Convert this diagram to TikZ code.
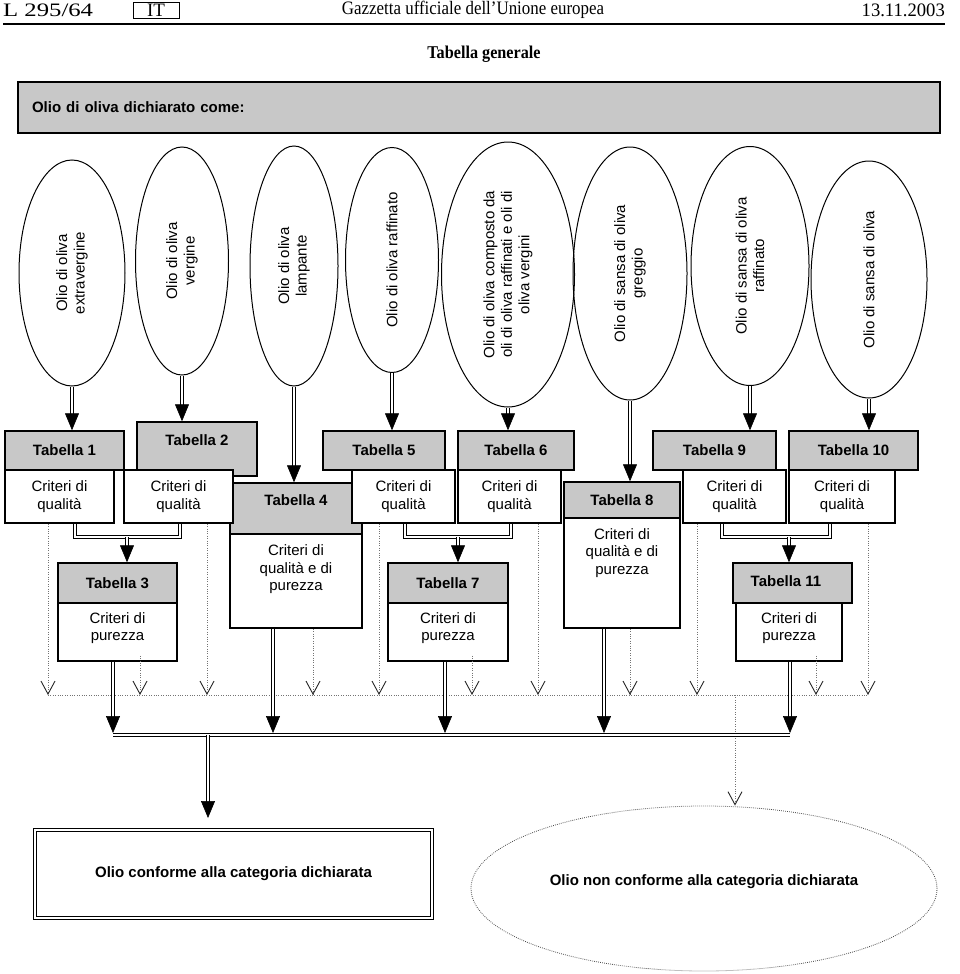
\documentclass[tikz,border=0pt]{standalone}
\usepackage{fontspec}
\setmainfont{Liberation Serif}
\setsansfont{Liberation Sans}
\usetikzlibrary{shapes.geometric,arrows.meta,calc}
\definecolor{boxgray}{RGB}{200,200,200}
\newcommand{\fsz}{\fontsize{15}{17.5}\selectfont\sffamily}
\newcommand{\dblarrow}[2]{\draw[dbl, shorten >=13pt] (#1) -- (#2); \draw[tiponly] (#1) -- (#2);}
\begin{document}
\begin{tikzpicture}[x=1pt,y=-1pt,
  hdr/.style={font=\fontsize{19}{21}\selectfont, inner sep=0},
  gbox/.style={draw, fill=boxgray, line width=1.5pt, inner sep=0, font=\fsz\bfseries},
  wbox/.style={draw, fill=white, line width=1.5pt, inner sep=0, align=center, font=\fsz},
  oval/.style={ellipse, draw, line width=1pt, rotate=90, align=center, inner sep=0, font=\fsz},
  txt/.style={inner sep=0, align=center, font=\fsz},
  btxt/.style={inner sep=0, font=\fsz\bfseries},
  dbl/.style={double, double distance=2.2pt, line width=1.2pt},
  tiponly/.style={draw=white, line width=0.6pt, -{Triangle[length=17pt,width=14pt,color=black]}},
  dots/.style={line width=0.8pt, draw=black!55, dash pattern=on 0.8pt off 1.6pt},
  vd/.style={dots, -{Straight Barb[length=13pt,width=14pt,color=black!85,line width=0.9pt]}}
]
\useasboundingbox (0,0) rectangle (960,974);
% header
\node[hdr, anchor=west] (pg) at (3,10) {\scalebox{1.3}[1]{L 295/64}};
\node[hdr, draw, line width=0.8pt, minimum width=46, minimum height=16] (it) at (156,10) {IT};
\node[hdr] (gz) at (473,10) {\scalebox{0.89}[1]{Gazzetta ufficiale dell'Unione europea}};
\node[hdr, anchor=east] (dt) at (945,10) {\scalebox{0.98}[1]{13.11.2003}};
\coordinate (rl) at (3,24); \coordinate (rr) at (945,24);
\draw[line width=1.3pt] (rl) -- (rr);
\node[font=\fontsize{18}{20}\selectfont\bfseries, inner sep=0] (tg) at (484,54) {\scalebox{0.9}[1]{Tabella generale}};
\node[gbox, minimum width=922, minimum height=51, text width=894, align=left] (hb) at (479,107.5) {Olio di oliva dichiarato come:};
% ellipses
\node[oval, minimum width=226, minimum height=106] (e1) at (72,273) {Olio di oliva\\extravergine};
\node[oval, minimum width=228, minimum height=93] (e2) at (182,261) {Olio di oliva\\vergine};
\node[oval, minimum width=240, minimum height=88] (e3) at (294,266) {Olio di oliva\\lampante};
\node[oval, minimum width=225, minimum height=93] (e4) at (392,260) {Olio di oliva raffinato};
\node[oval, minimum width=265, minimum height=133] (e5) at (508,274.5) {Olio di oliva composto da\\oli di oliva raffinati e oli di\\oliva vergini};
\node[oval, minimum width=253, minimum height=114] (e6) at (630,273.5) {Olio di sansa di oliva\\greggio};
\node[oval, minimum width=239, minimum height=118] (e7) at (750,266) {Olio di sansa di oliva\\raffinato};
\node[oval, minimum width=237, minimum height=116] (e8) at (869,279.5) {Olio di sansa di oliva};
% gray table heads
\node[gbox, minimum width=119, minimum height=39] (t1) at (64.5,450.5) {Tabella 1};
\node[gbox, minimum width=120, minimum height=54] (t2) at (197,449) {};
\node[btxt] (t2l) at (197,440) {Tabella 2};
\node[gbox, minimum width=132, minimum height=51] (t4) at (296,508.5) {};
\node[btxt] (t4l) at (296,500) {Tabella 4};
\node[wbox, minimum width=132, minimum height=94] (t4w) at (296,581) {};
\node[txt] (t4t) at (296,569.5) {Criteri di\\qualità e di\\purezza};
\node[gbox, minimum width=122, minimum height=39] (t5) at (384,450.5) {Tabella 5};
\node[gbox, minimum width=116, minimum height=39] (t6) at (516,450.5) {Tabella 6};
\node[gbox, minimum width=116, minimum height=36] (t8) at (622,500) {Tabella 8};
\node[wbox, minimum width=116, minimum height=110] (t8w) at (622,573) {};
\node[txt] (t8t) at (622,553) {Criteri di\\qualità e di\\purezza};
\node[gbox, minimum width=123, minimum height=39] (t9) at (714.5,450.5) {Tabella 9};
\node[gbox, minimum width=129, minimum height=39] (t10) at (853.5,450.5) {Tabella 10};
% quality boxes
\node[wbox, minimum width=109, minimum height=53] (c1) at (59.5,496.5) {Criteri di\\qualità};
\node[wbox, minimum width=109, minimum height=53] (c2) at (178.5,496.5) {Criteri di\\qualità};
\node[wbox, minimum width=103, minimum height=53] (c5) at (403.5,496.5) {Criteri di\\qualità};
\node[wbox, minimum width=103, minimum height=53] (c6) at (509.5,496.5) {Criteri di\\qualità};
\node[wbox, minimum width=103, minimum height=53] (c9) at (734.5,496.5) {Criteri di\\qualità};
\node[wbox, minimum width=106, minimum height=53] (c10) at (842,496.5) {Criteri di\\qualità};
% purity tables
\node[gbox, minimum width=119, minimum height=40] (t3) at (117.5,583) {Tabella 3};
\node[wbox, minimum width=119, minimum height=58] (t3w) at (117.5,632) {};
\node[txt] (t3t) at (117.5,628) {Criteri di\\purezza};
\node[gbox, minimum width=120, minimum height=40] (t7) at (448,583) {Tabella 7};
\node[wbox, minimum width=120, minimum height=58] (t7w) at (448,632) {};
\node[txt] (t7t) at (448,628) {Criteri di\\purezza};
\node[gbox, minimum width=119, minimum height=40] (t11) at (792.5,583) {};
\node[btxt] (t11l) at (786,581) {Tabella 11};
\node[wbox, minimum width=106, minimum height=58] (t11w) at (789,632) {};
\node[txt] (t11t) at (789,628) {Criteri di\\purezza};
% results
\node[draw, double, double distance=1.5pt, line width=1pt, minimum width=397, minimum height=88, inner sep=0, font=\fsz\bfseries] (ok) at (233.5,874) {Olio conforme alla categoria dichiarata};
\node[ellipse, draw=black!70, line width=0.8pt, dash pattern=on 0.8pt off 1.2pt, minimum width=466, minimum height=165, inner sep=0] (ne) at (704,888.5) {};
\node[btxt] (net) at (704,882) {Olio non conforme alla categoria dichiarata};
% arrows from ellipses
\dblarrow{e1.west}{e1.west |- t1.north}
\dblarrow{e2.west}{e2.west |- t2.north}
\dblarrow{e3.west}{e3.west |- t4.north}
\dblarrow{e4.west}{e4.west |- t5.north}
\dblarrow{e5.west}{e5.west |- t6.north}
\dblarrow{e6.west}{e6.west |- t8.north}
\dblarrow{e7.west}{e7.west |- t9.north}
\dblarrow{e8.west}{e8.west |- t10.north}
% brackets
\coordinate (b1L) at (75,537); \coordinate (b1R) at (180,537); \coordinate (b1M) at (127,537);
\coordinate (b2L) at (405,537); \coordinate (b2R) at (511,537); \coordinate (b2M) at (458,537);
\coordinate (b3L) at (722,537); \coordinate (b3R) at (830,537); \coordinate (b3M) at (789,537);
\draw[dbl] (c1.south -| b1L) -- (b1L) -- (b1R) -- (c2.south -| b1R);
\draw[dbl] (c5.south -| b2L) -- (b2L) -- (b2R) -- (c6.south -| b2R);
\draw[dbl] (c9.south -| b3L) -- (b3L) -- (b3R) -- (c10.south -| b3R);
\dblarrow{b1M}{b1M |- t3.north}
\dblarrow{b2M}{b2M |- t7.north}
\dblarrow{b3M}{b3M |- t11.north}
% dotted arrows
\coordinate (d1) at (48,695); \coordinate (d2) at (140,695); \coordinate (d3) at (207,695);
\coordinate (d4) at (313,695); \coordinate (d5) at (379,695); \coordinate (d6) at (472,695);
\coordinate (d7) at (538,695); \coordinate (d8) at (630,695); \coordinate (d9) at (697,695);
\coordinate (d10) at (816,695); \coordinate (d11) at (868,695); \coordinate (dj) at (735,695);
\draw[dots] (d1) -- (d11);
\draw[vd] (c1.south -| d1) -- (d1);
\draw[vd] ([yshift=6pt]t3w.south -| d2) -- (d2);
\draw[vd] (c2.south -| d3) -- (d3);
\draw[vd] (t4w.south -| d4) -- (d4);
\draw[vd] (c5.south -| d5) -- (d5);
\draw[vd] ([yshift=6pt]t7w.south -| d6) -- (d6);
\draw[vd] (c6.south -| d7) -- (d7);
\draw[vd] (t8w.south -| d8) -- (d8);
\draw[vd] (c9.south -| d9) -- (d9);
\draw[vd] ([yshift=6pt]t11w.south -| d10) -- (d10);
\draw[vd] (c10.south -| d11) -- (d11);
\draw[vd] (dj) -- (dj |- ne.north);
% collector
\coordinate (busL) at (113,735); \coordinate (busR) at (790,735);
\draw[dbl] (busL) -- (busR);
\coordinate (a3) at (113,733); \coordinate (a4) at (273,733); \coordinate (a7) at (445,733);
\coordinate (a8) at (604,733); \coordinate (a11) at (790,733);
\dblarrow{a3 |- t3w.south}{a3}
\dblarrow{a4 |- t4w.south}{a4}
\dblarrow{a7 |- t7w.south}{a7}
\dblarrow{a8 |- t8w.south}{a8}
\dblarrow{a11 |- t11w.south}{a11}
\coordinate (out) at (208,735); \coordinate (oute) at (208,818);
\dblarrow{out}{oute}
\end{tikzpicture}
\end{document}
